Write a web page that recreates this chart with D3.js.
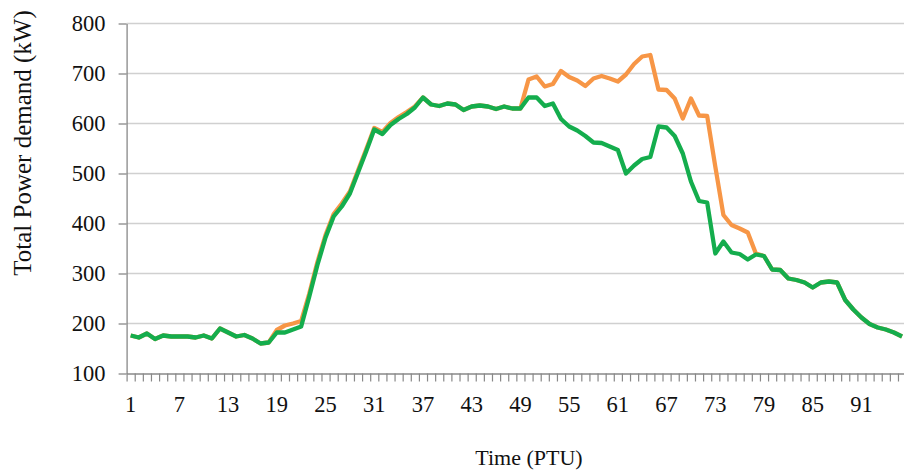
<!DOCTYPE html>
<html>
<head>
<meta charset="utf-8">
<script src="https://cdn.jsdelivr.net/npm/d3@7"></script>
<style>
  body { margin: 0; background: #fff; }
  text { font-family: "Palatino Linotype", "Book Antiqua", Palatino, "Liberation Serif", serif; fill: #111; }
</style>
</head>
<body>
<div id="chart"></div>
<script>
var width = 904,
    height = 472;

// PTU index 1..96
var periods = d3.range(1, 97);
var xLabels = [1, 7, 13, 19, 25, 31, 37, 43, 49, 55, 61, 67, 73, 79, 85, 91];
var yTicks = [100, 200, 300, 400, 500, 600, 700, 800];

// green series (drawn on top)
var demandGreen = [176, 172, 180, 169, 176, 174, 174, 174, 172, 176, 170, 190, 182, 174, 177, 170, 160, 162,
  182, 182, 188, 194, 254, 317, 372, 414, 434, 460, 502, 544, 588, 579, 597, 609, 619, 632,
  652, 638, 635, 640, 638, 627, 634, 636, 634, 629, 634, 630, 630,
  652, 652, 635, 640, 609, 594, 586, 575, 562, 561, 554, 547, 500, 516, 529, 533, 594, 592, 575, 540, 484,
  445, 442, 340, 364, 342, 339, 328, 338,
  335, 308, 307, 290, 287, 282, 272, 282, 284, 282, 247, 228, 212, 199, 192, 188, 182, 174];

// orange series (behind)
var demandOrange = [176, 172, 180, 169, 176, 174, 174, 174, 172, 176, 170, 190, 182, 174, 177, 170, 160, 162,
  187, 196, 200, 205, 260, 323, 377, 419, 440, 464, 506, 548, 591, 583, 601, 613, 623, 634,
  652, 638, 635, 640, 638, 627, 634, 636, 634, 629, 634, 630, 630,
  688, 694, 674, 679, 705, 693, 686, 675, 690, 695, 690, 684, 698, 719, 734, 737, 668, 667, 650, 610, 650,
  616, 615, 514, 417, 397, 390, 382, 340,
  335, 308, 307, 290, 287, 282, 272, 282, 284, 282, 247, 228, 212, 199, 192, 188, 182, 174];

var svg = d3.select("#chart")
    .append("svg")
    .attr("width", width)
    .attr("height", height);

var x = d3.scaleLinear().domain([0.5, 96.5]).range([126.6, 906.1]);
var y = d3.scaleLinear().domain([100, 800]).range([373.5, 23.5]);

// gridlines
svg.append("g")
  .selectAll("line")
  .data(yTicks.slice(1))
  .enter().append("line")
  .attr("x1", x(0.5))
  .attr("x2", width)
  .attr("y1", function(d){ return y(d); })
  .attr("y2", function(d){ return y(d); })
  .attr("stroke", "#d0d0d0")
  .attr("stroke-width", 1.3);

// y axis
var yAxis = svg.append("g")
  .attr("transform", "translate(" + x(0.5) + ",0)")
  .call(d3.axisLeft(y).tickValues(yTicks).tickSize(8).tickSizeOuter(0).tickPadding(13));
yAxis.select(".domain").attr("stroke", "#888").attr("stroke-width", 1.3);
yAxis.selectAll(".tick line").attr("stroke", "#888").attr("stroke-width", 1.3);
yAxis.selectAll(".tick text")
  .style("font-size", "22.5px")
  .style("font-family", null)
  .attr("fill", "#111");

// x axis (ticks between categories)
var xAxis = svg.append("g")
  .attr("transform", "translate(0," + y(100) + ")")
  .call(d3.axisBottom(x).tickValues(d3.range(0.5, 97, 1)).tickSize(8).tickSizeOuter(0).tickFormat(""));
xAxis.select(".domain").attr("stroke", "#888").attr("stroke-width", 1.3);
xAxis.selectAll(".tick line").attr("stroke", "#888").attr("stroke-width", 1.2);

svg.append("g")
  .selectAll("text")
  .data(xLabels)
  .enter().append("text")
  .attr("x", function(d){ return x(d); })
  .attr("y", 412)
  .attr("text-anchor", "middle")
  .style("font-size", "22.5px")
  .text(function(d){ return d; });

// lines
var line = d3.line()
  .x(function(d, i){ return x(periods[i]); })
  .y(function(d){ return y(d); });

svg.append("path")
  .datum(demandOrange)
  .attr("fill", "none")
  .attr("stroke", "#F79646")
  .attr("stroke-width", 4.3)
  .attr("stroke-linejoin", "round")
  .attr("d", line);

svg.append("path")
  .datum(demandGreen)
  .attr("fill", "none")
  .attr("stroke", "#14AD4D")
  .attr("stroke-width", 4.3)
  .attr("stroke-linejoin", "round")
  .attr("d", line);

// axis titles
svg.append("text")
  .attr("x", 529)
  .attr("y", 465)
  .attr("text-anchor", "middle")
  .style("font-size", "22px")
  .text("Time (PTU)");

svg.append("text")
  .attr("transform", "translate(31,143) rotate(-90)")
  .attr("text-anchor", "middle")
  .style("font-size", "25px")
  .text("Total Power demand (kW)");
</script>
</body>
</html>
